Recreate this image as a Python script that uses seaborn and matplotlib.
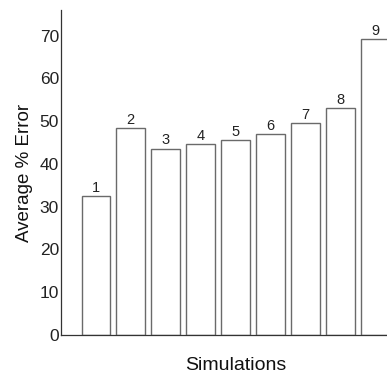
import matplotlib
matplotlib.use("Agg")
import matplotlib.pyplot as plt
import seaborn as sns
import pandas as pd

# Average percentage error for each simulation run
simulations = ["1", "2", "3", "4", "5", "6", "7", "8", "9"]
avg_error = [32.5, 48.3, 43.6, 44.6, 45.6, 46.9, 49.5, 53.0, 69.2]
y_ticks = [0, 10, 20, 30, 40, 50, 60, 70]

df = pd.DataFrame({"Simulation": simulations, "Error": avg_error})

sns.set_theme(style="white")
plt.rcParams["font.family"] = ["Liberation Sans", "DejaVu Sans"]

fig = plt.figure(figsize=(3.87, 3.75), dpi=100)
# axes run past the right edge of the canvas, so the last bar is cut off
ax = fig.add_axes([0.1576, 0.1067, 0.902, 0.8667])

sns.barplot(data=df, x="Simulation", y="Error", order=simulations,
            color="white", edgecolor="#6a6a6a", linewidth=1.0,
            width=0.82, ax=ax)

ax.bar_label(ax.containers[0], labels=simulations, padding=1,
             fontsize=10.5, color="#222222")

ax.set_xlim(-1, 9)
ax.set_ylim(0, 76)
ax.set_yticks(y_ticks)
ax.set_xticks([])
ax.tick_params(axis="y", direction="in", length=3, width=0.8,
               color="#555555", labelsize=12.5, labelcolor="#222222", pad=1.5)

for side in ["top", "right"]:
    ax.spines[side].set_visible(False)
for side in ["left", "bottom"]:
    ax.spines[side].set_color("#333333")
    ax.spines[side].set_linewidth(0.9)

ax.set_xlabel("Simulations", fontsize=14, color="#111111", labelpad=16)
ax.set_ylabel("Average % Error", fontsize=13.5, color="#111111", labelpad=5)

fig.savefig("out.png", dpi=100, facecolor="white")
